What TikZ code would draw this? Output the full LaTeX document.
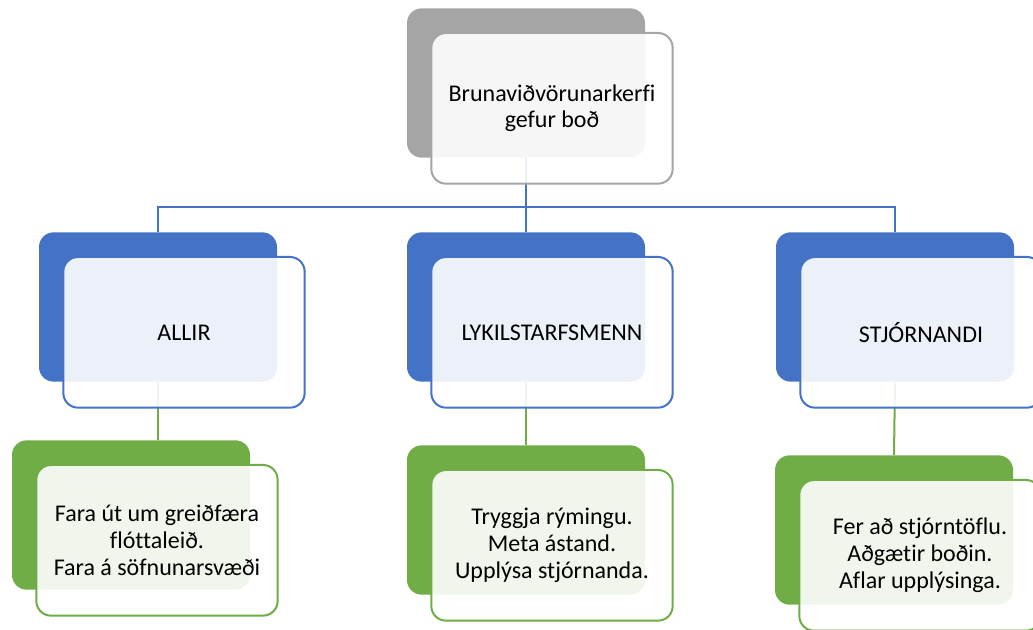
\documentclass[tikz,border=0pt]{standalone}
\usepackage{fontspec}
\setmainfont{Carlito}[Ligatures=NoCommon]
\usetikzlibrary{positioning}
\definecolor{grayBack}{HTML}{A5A5A5}
\definecolor{blueBack}{HTML}{4472C4}
\definecolor{greenBack}{HTML}{70AD47}
\tikzstyle{backBox} = [rectangle,rounded corners=11pt,minimum width=178.5pt,minimum height=112pt,inner sep=0pt]
\tikzstyle{frontBox} = [rectangle,rounded corners=11pt,minimum width=181pt,minimum height=113pt,inner sep=0pt,line width=1.5pt,fill=white,fill opacity=0.9,text opacity=1,align=center,font=\fontsize{18}{20}\selectfont]
\tikzstyle{link} = [line width=1.5pt]

\begin{document}
\begin{tikzpicture}[x=0.75pt,y=-0.75pt]
			\useasboundingbox (0,0) rectangle (1033,630);
			% back boxes
			\node[backBox,fill=grayBack] (topB) at (526,83) {};
			\node[backBox,fill=blueBack] (allB) at (158,307) {};
			\node[backBox,fill=blueBack] (lykB) at (526,307) {};
			\node[backBox,fill=blueBack] (stjB) at (895,307) {};
			\node[backBox,fill=greenBack] (allL) at (131,515) {};
			\node[backBox,fill=greenBack] (lykL) at (526,520) {};
			\node[backBox,fill=greenBack] (stjL) at (894,530) {};
			% connectors
			\coordinate (split) at (526,207);
			\draw[link,blueBack] (topB.south)--(split);
			\draw[link,blueBack] (split)-|(allB.north);
			\draw[link,blueBack] (split)-|(stjB.north);
			\draw[link,blueBack] (split)--(lykB.north);
			\draw[link,greenBack] (allB.south)--(allB.south|-allL.north);
			\draw[link,greenBack] (lykB.south)--(lykL.north);
			\draw[link,greenBack] (stjB.south)--(stjL.north);
			% front boxes
			\node[frontBox,draw=grayBack,xshift=19.5pt,yshift=-19pt] (topF) at (topB) {Brunaviðvörunarkerfi\\gefur boð};
			\node[frontBox,draw=blueBack,xshift=19.5pt,yshift=-19pt] (allF) at (allB) {ALLIR};
			\node[frontBox,draw=blueBack,xshift=19.5pt,yshift=-19pt] (lykF) at (lykB) {LYKILSTARFSMENN};
			\node[frontBox,draw=blueBack,xshift=19.5pt,yshift=-19pt] (stjF) at (stjB) {STJÓRNANDI};
			\node[frontBox,draw=greenBack,xshift=19.5pt,yshift=-19pt] (allT) at (allL) {Fara út um greiðfæra\\flóttaleið.\\Fara á söfnunarsvæði};
			\node[frontBox,draw=greenBack,xshift=19.5pt,yshift=-19pt] (lykT) at (lykL) {Tryggja rýmingu.\\Meta ástand.\\Upplýsa stjórnanda.};
			\node[frontBox,draw=greenBack,xshift=19.5pt,yshift=-19pt] (stjT) at (stjL) {Fer að stjórntöflu.\\Aðgætir boðin.\\Aflar upplýsinga.};
		\end{tikzpicture}
\end{document}
